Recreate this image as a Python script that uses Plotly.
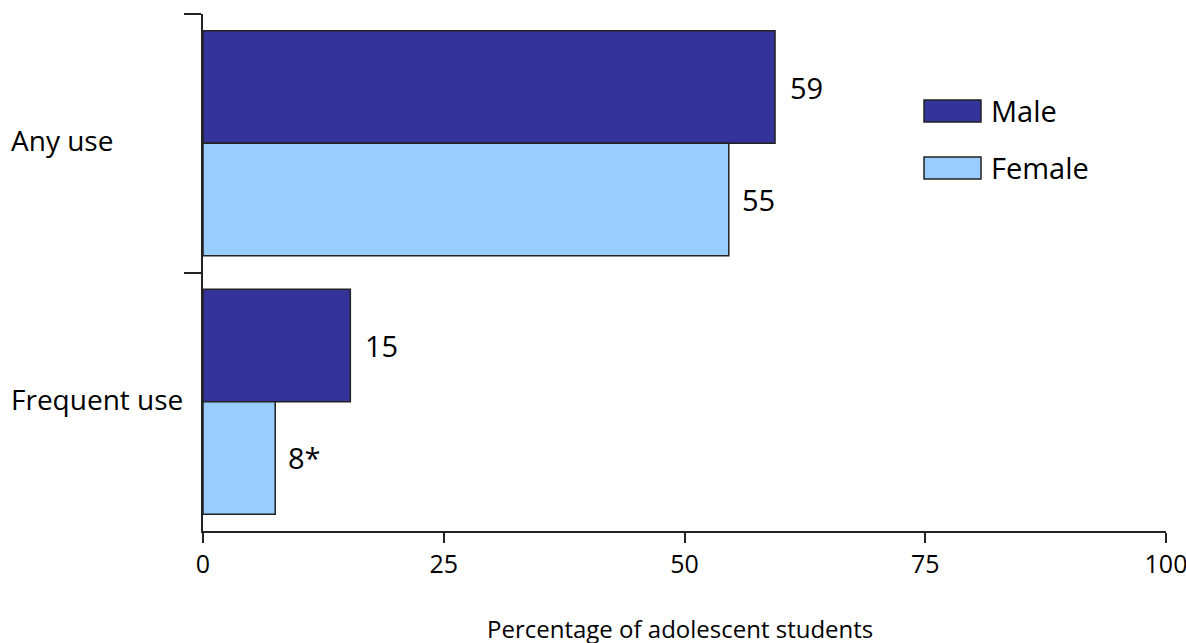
import plotly.graph_objects as go

categories = ["Any use", "Frequent use"]
male = [59.4, 15.3]
female = [54.6, 7.5]
male_labels = ["59", "15"]
female_labels = ["55", "8*"]
x_ticks = [0, 25, 50, 75, 100]

MALE_C = "#333399"
FEMALE_C = "#99CCFF"
EDGE = "#222222"
FONT = "Open Sans"

fig = go.Figure()
fig.add_trace(go.Bar(y=categories, x=male, orientation="h", name="Male",
                     marker=dict(color=MALE_C, line=dict(color=EDGE, width=1.5))))
fig.add_trace(go.Bar(y=categories, x=female, orientation="h", name="Female",
                     marker=dict(color=FEMALE_C, line=dict(color=EDGE, width=1.5))))

bargap = 0.13
half = (1 - bargap) / 4  # centre offset of each bar within group

annotations = []
for i, cat in enumerate(categories):
    annotations.append(dict(x=male[i], y=i - half, xref="x", yref="y", text=male_labels[i],
                            showarrow=False, xanchor="left", yanchor="middle", xshift=13,
                            font=dict(family=FONT, size=29, color="black")))
    annotations.append(dict(x=female[i], y=i + half, xref="x", yref="y", text=female_labels[i],
                            showarrow=False, xanchor="left", yanchor="middle", xshift=11,
                            font=dict(family=FONT, size=29, color="black")))
    annotations.append(dict(x=-0.201, y=i, xref="paper", yref="y", text=cat,
                            showarrow=False, xanchor="left", yanchor="middle", yshift=3,
                            font=dict(family=FONT, size=28, color="black")))

annotations.append(dict(x=0.495, y=-0.189, xref="paper", yref="paper",
                        text="Percentage of adolescent students", showarrow=False,
                        xanchor="center", yanchor="middle",
                        font=dict(family=FONT, size=24, color="black")))

# legend
legend_items = [("Male", MALE_C, 0.8337, 0.7911), ("Female", FEMALE_C, 0.7234, 0.6809)]
shapes = []
for name, col, y1, y0 in legend_items:
    shapes.append(dict(type="rect", xref="paper", yref="paper", x0=0.7487, x1=0.8079,
                       y0=y0, y1=y1, fillcolor=col, line=dict(color=EDGE, width=1.5)))
    annotations.append(dict(x=0.8163, y=(y0 + y1) / 2, xref="paper", yref="paper", text=name,
                            showarrow=False, xanchor="left", yanchor="middle",
                            font=dict(family=FONT, size=29, color="black")))

fig.update_layout(
    width=1186, height=643,
    margin=dict(l=203, r=20, t=14, b=112),
    paper_bgcolor="white", plot_bgcolor="white",
    barmode="group", bargap=bargap, bargroupgap=0,
    showlegend=False,
    font=dict(family=FONT, color="black"),
    annotations=annotations, shapes=shapes,
    xaxis=dict(range=[0, 100], tickvals=x_ticks, ticktext=[str(v) for v in x_ticks],
               showgrid=False, zeroline=False, showline=True, linecolor="#222222", linewidth=1.5,
               ticks="outside", ticklen=10, tickwidth=1.5, tickcolor="#222222",
               tickfont=dict(family=FONT, size=25, color="black"), automargin=False,
               ticklabeloverflow="allow"),
    yaxis=dict(categoryorder="array", categoryarray=categories, autorange="reversed",
               showgrid=False, zeroline=False, showline=True, linecolor="#222222", linewidth=1.5,
               ticks="outside", ticklen=17, tickwidth=1.5, tickcolor="#222222",
               tickson="boundaries", showticklabels=False, automargin=False),
)

fig.write_html("out.html", config={"displayModeBar": False},
               post_script="document.body.style.margin='0';document.body.style.overflow='hidden';")
